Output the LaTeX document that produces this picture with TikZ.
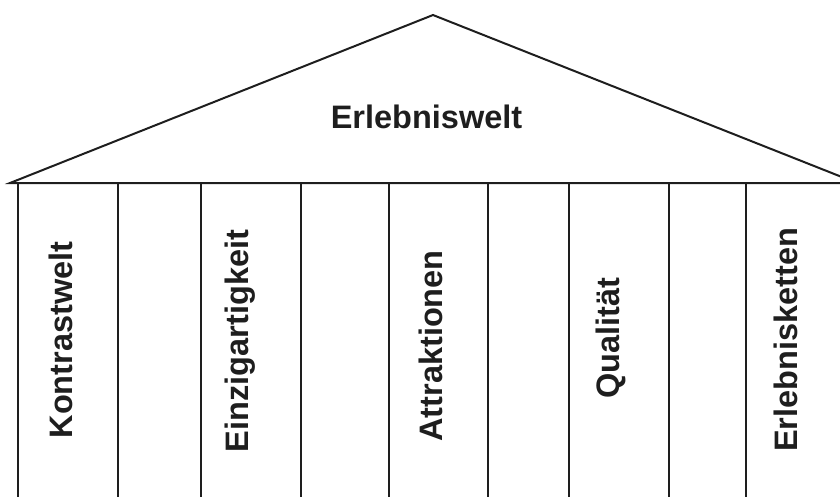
\documentclass[tikz,border=0pt]{standalone}
\usepackage{fontspec}
\setmainfont{Liberation Sans}
\definecolor{ink}{HTML}{1E1E1E}
\begin{document}
\begin{tikzpicture}[x=1pt,y=-1pt,
  edge/.style={draw=ink,line width=2pt},
  lbl/.style={text=ink,font=\fontsize{32.5}{38}\selectfont\bfseries,inner sep=0pt,anchor=base},
  vlbl/.style={lbl,rotate=90}]
\useasboundingbox (0,0) rectangle (840,496);
\clip (0,0) rectangle (840,496);
\coordinate (apex) at (433,15);
\coordinate (left) at (10,183);
\coordinate (right) at (857,183);
\draw[edge,line join=miter] (right) -- (apex) -- (left) -- cycle;
\foreach \x [count=\i] in {18,118,201,301,389,488,569,669,746}{
  \coordinate (t\i) at (\x,183);
  \coordinate (b\i) at (\x,500);
  \draw[edge] (t\i) -- (b\i);
}
\node[lbl] (roof) at (426.5,128) {Erlebniswelt};
\node[vlbl] (c1) at (72,340) {Kontrastwelt};
\node[vlbl] (c2) at (248,341) {Einzigartigkeit};
\node[vlbl] (c3) at (442,346) {Attraktionen};
\node[vlbl] (c4) at (619,338) {Qualität};
\node[vlbl] (c5) at (797,340) {Erlebnisketten};
\end{tikzpicture}
\end{document}
